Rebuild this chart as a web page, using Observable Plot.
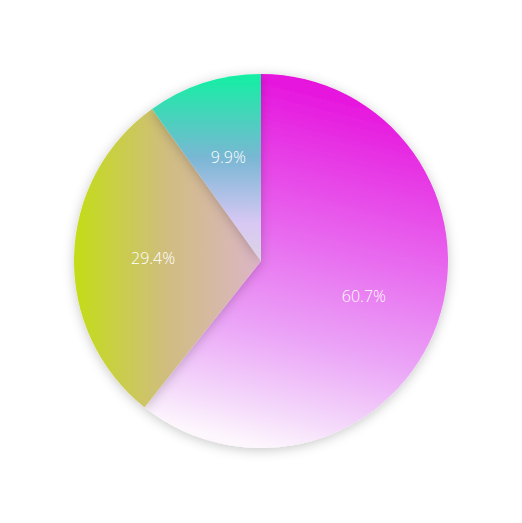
<!DOCTYPE html>
<html>
<head>
<meta charset="utf-8">
<script src="https://cdn.jsdelivr.net/npm/d3@7"></script>
<script src="https://cdn.jsdelivr.net/npm/@observablehq/plot@0.6"></script>
<style>
  html, body { margin: 0; padding: 0; background: #fff; }
  #chart { width: 522px; height: 523px; }
</style>
</head>
<body>
<div id="chart"></div>
<script>
const categories = ["A", "B", "C"];
const values = [60.7, 29.4, 9.9];
const labels = ["60.7%", "29.4%", "9.9%"];

const gradients = [
  {x1: 0.6, y1: 0, x2: 0.4, y2: 1, stops: [[0, "#e60bdc"], [0.45, "#e86cef"], [0.7, "#eba4f7"], [0.88, "#f3d4fa"], [1, "#fdf6fd"]]},
  {x1: 0, y1: 0, x2: 1, y2: 0, stops: [[0, "#c3dd16"], [0.5, "#d0bd80"], [1, "#dcb5c8"]]},
  {x1: 0, y1: 0, x2: 0, y2: 1, stops: [[0, "#12f0a2"], [0.45, "#7ab7d4"], [0.8, "#d8c8f4"], [1, "#dcd4e4"]]}
];

const data = categories.map((c, i) => ({category: c, value: values[i], label: labels[i], i}));
const pie = d3.pie().sort(null).value(d => d.value)(data);
data.forEach((d, i) => { d.mid = (pie[i].startAngle + pie[i].endAngle) / 2; });

const slicesMark = (index, scales, vals, dimensions) => {
  const g = d3.create("svg:g");
  const cx = scales.x(0), cy = scales.y(0), r = scales.x(1) - scales.x(0);
  const defs = g.append("defs");
  gradients.forEach((gr, i) => {
    const lg = defs.append("linearGradient").attr("id", "grad" + i)
      .attr("x1", gr.x1).attr("y1", gr.y1).attr("x2", gr.x2).attr("y2", gr.y2);
    gr.stops.forEach(([o, c]) => lg.append("stop").attr("offset", o).attr("stop-color", c));
  });
  const f = defs.append("filter").attr("id", "shadow").attr("x", "-30%").attr("y", "-30%").attr("width", "160%").attr("height", "160%");
  f.append("feDropShadow").attr("dx", 0).attr("dy", 2).attr("stdDeviation", 6)
    .attr("flood-color", "#000").attr("flood-opacity", 0.22);
  const arc = d3.arc().innerRadius(0).outerRadius(r);
  g.append("g").attr("transform", `translate(${cx},${cy})`)
    .selectAll("path").data(pie).join("path")
    .attr("d", arc)
    .attr("fill", (d, i) => `url(#grad${i})`)
    .attr("filter", "url(#shadow)");
  return g.node();
};

const labelR = 0.58;
const chart = Plot.plot({
  width: 522,
  height: 523,
  marginLeft: 74,
  marginRight: 74,
  marginTop: 74,
  marginBottom: 75,
  x: {domain: [-1, 1], axis: null},
  y: {domain: [-1, 1], axis: null},
  style: {background: "#fff", overflow: "visible"},
  marks: [
    slicesMark,
    Plot.text(data, {
      x: d => labelR * Math.sin(d.mid),
      y: d => labelR * Math.cos(d.mid),
      text: "label",
      fill: "#fff",
      fontSize: 16,
      fontWeight: 300,
      fontFamily: "'Open Sans', sans-serif"
    })
  ]
});
document.getElementById("chart").appendChild(chart);
</script>
</body>
</html>
